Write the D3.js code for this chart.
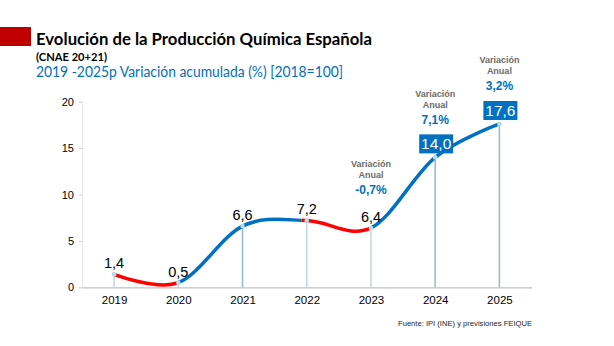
<!DOCTYPE html>
<html><head><meta charset="utf-8">
<script src="https://cdn.jsdelivr.net/npm/d3@7"></script>
<style>body{margin:0;background:#fff}svg{display:block}</style>
</head><body>
<svg id="c" width="614" height="346"></svg>
<script>
const years = ["2019","2020","2021","2022","2023","2024","2025"];
const values = [1.4, 0.5, 6.6, 7.2, 6.4, 14.0, 17.6];
const valueLabels = ["1,4","0,5","6,6","7,2","6,4","14,0","17,6"];
const boxedYears = ["2024","2025"];
const annotYears = ["2023","2024","2025"];
const annotPct = ["-0,7%","7,1%","3,2%"];
const declineSegments = [["2019","2020"],["2022","2023"]];
const yTicks = [0,5,10,15,20];
const title = "Evolución de la Producción Química Española";
const subtitle1 = "(CNAE 20+21)";
const subtitle2 = "2019 -2025p Variación acumulada (%) [2018=100]";
const source = "Fuente: IPI (INE) y previsiones FEIQUE";

const BLUE = "#0070c0", RED = "#ff0000";
const svg = d3.select("#c");
const x = d3.scalePoint().domain(years).range([82, 531.5]).padding(0.5);
const y = d3.scaleLinear().domain([0, 20]).range([287.3, 101.7]);

// header
svg.append("rect").attr("x",0).attr("y",27).attr("width",31).attr("height",19).attr("fill","#c00000");
svg.append("text").attr("x",36).attr("y",44.5).text(title)
  .attr("font-family","Lato, 'Open Sans', sans-serif").attr("font-weight","bold").attr("font-size",17.5)
  .attr("fill","#000").attr("textLength",336).attr("lengthAdjust","spacingAndGlyphs");
svg.append("text").attr("x",36).attr("y",61).text(subtitle1)
  .attr("font-family","Lato, sans-serif").attr("font-weight","bold").attr("font-size",10.5)
  .attr("fill","#000").attr("textLength",71).attr("lengthAdjust","spacingAndGlyphs");
svg.append("text").attr("x",36).attr("y",77).text(subtitle2)
  .attr("font-family","Lato, sans-serif").attr("font-size",14.5)
  .attr("fill",BLUE).attr("textLength",307).attr("lengthAdjust","spacingAndGlyphs");

// y axis
const yAxis = d3.axisLeft(y).tickValues(yTicks).tickSize(3).tickPadding(5);
const ga = svg.append("g").attr("transform","translate(82,0)").call(yAxis);
ga.select(".domain").attr("stroke","#d0d0d0").attr("stroke-dasharray","1,1");
ga.selectAll(".tick line").attr("stroke","#d0d0d0");
ga.selectAll(".tick text").attr("font-family","'Liberation Sans', Arial, sans-serif").attr("font-size",11).attr("fill","#000");

// x axis
const xAxis = d3.axisBottom(x).tickSize(0).tickPadding(9);
const gx = svg.append("g").attr("transform",`translate(0,${y(0)})`).call(xAxis);
gx.select(".domain").attr("stroke","#bfbfbf").attr("stroke-width",1.2);
gx.selectAll(".tick text").attr("font-family","'Liberation Sans', Arial, sans-serif").attr("font-size",11.5).attr("fill","#000");

// drop lines
const lightYears = new Set(declineSegments.flat());
years.forEach((yr,i)=>{
  svg.append("line").attr("x1",x(yr)).attr("x2",x(yr)).attr("y1",y(values[i])).attr("y2",y(0))
    .attr("stroke", lightYears.has(yr) ? "#bdd7ee" : "#8fb9e0").attr("stroke-width",1.5);
});

// curve with colored segments via clip paths
const pts = years.map((yr,i)=>[x(yr), y(values[i])]);
const line = d3.line().curve(d3.curveCardinal.tension(0));
const defs = svg.append("defs");
const redClip = defs.append("clipPath").attr("id","redClip");
const blueClip = defs.append("clipPath").attr("id","blueClip");
const redRanges = declineSegments.map(s=>[x(s[0]), x(s[1])]);
redRanges.forEach(r=>redClip.append("rect").attr("x",r[0]-5).attr("y",0).attr("width",r[1]-r[0]+5).attr("height",346));
// blue = complement
let edges = [0];
redRanges.forEach(r=>{edges.push(r[0]-5, r[1]);});
edges.push(614);
for(let i=0;i<edges.length;i+=2){
  blueClip.append("rect").attr("x",edges[i]).attr("y",0).attr("width",Math.max(0,edges[i+1]-edges[i])).attr("height",346);
}
svg.append("path").attr("d",line(pts)).attr("fill","none").attr("stroke",BLUE).attr("stroke-width",3.5)
  .attr("stroke-linecap","round").attr("clip-path","url(#blueClip)");
svg.append("path").attr("d",line(pts)).attr("fill","none").attr("stroke",RED).attr("stroke-width",3.5)
  .attr("stroke-linecap","round").attr("clip-path","url(#redClip)");

// markers
svg.selectAll("circle.m").data(pts).enter().append("circle").attr("class","m")
  .attr("cx",d=>d[0]).attr("cy",d=>d[1]).attr("r",2.3).attr("fill","#b4dcea");

// value labels
years.forEach((yr,i)=>{
  const px = x(yr), py = y(values[i]);
  if (boxedYears.includes(yr)) {
    const w = 34, h = 19;
    svg.append("rect").attr("x",px-w/2+1).attr("y",py-4-h).attr("width",w).attr("height",h).attr("fill",BLUE);
    svg.append("text").attr("x",px+1).attr("y",py-4-h/2+5.5).attr("text-anchor","middle")
      .attr("font-family","'Liberation Sans', Arial, sans-serif").attr("font-size",15.5).attr("fill","#fff")
      .text(valueLabels[i]);
  } else {
    svg.append("text").attr("x",px).attr("y",py-6).attr("text-anchor","middle")
      .attr("font-family","'Liberation Sans', Arial, sans-serif").attr("font-size",14.5).attr("fill","#000")
      .text(valueLabels[i]);
  }
});

// annotations
annotYears.forEach((yr,k)=>{
  const i = years.indexOf(yr);
  const px = x(yr), c = y(values[i]) - 38;
  const g = svg.append("g").attr("font-family","'Liberation Sans', Arial, sans-serif").attr("font-weight","bold").attr("text-anchor","middle");
  g.append("text").attr("x",px).attr("y",c-26+3.3).attr("font-size",9).attr("fill","#6b6b6b").text("Variación");
  g.append("text").attr("x",px).attr("y",c-15+3.3).attr("font-size",9).attr("fill","#6b6b6b").text("Anual");
  g.append("text").attr("x",px).attr("y",c+4.2).attr("font-size",12).attr("fill",BLUE).text(annotPct[k]);
});

// source
svg.append("text").attr("x",532).attr("y",326).attr("text-anchor","end")
  .attr("font-family","'Liberation Sans', Arial, sans-serif").attr("font-size",8).attr("fill","#262626")
  .attr("textLength",134).attr("lengthAdjust","spacingAndGlyphs").text(source);
</script>
</body></html>
